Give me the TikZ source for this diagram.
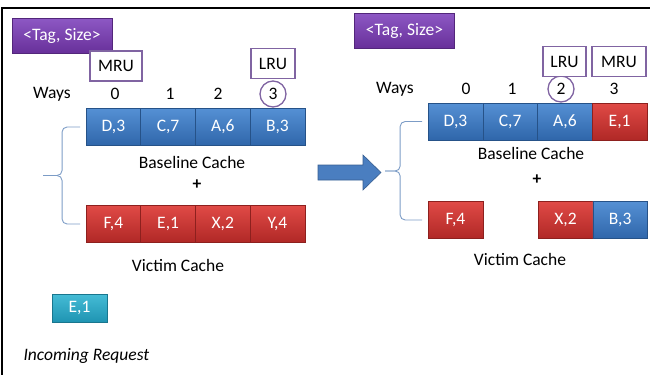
\documentclass[tikz,border=0pt]{standalone}
\usepackage{fontspec}
\setmainfont{Carlito}
\usetikzlibrary{positioning}

\definecolor{blueTop}{HTML}{5590D4}
\definecolor{blueBot}{HTML}{2F66AA}
\definecolor{redTop}{HTML}{E04A46}
\definecolor{redBot}{HTML}{B02826}
\definecolor{cyanTop}{HTML}{45BCD6}
\definecolor{cyanBot}{HTML}{1F94B2}
\definecolor{tagTop}{HTML}{8D58C4}
\definecolor{tagBot}{HTML}{68309A}
\definecolor{markPurple}{HTML}{8064A2}
\definecolor{braceBlue}{HTML}{7C9CC6}
\definecolor{arrowBlue}{HTML}{4A7EC0}

\tikzset{
    cell/.style={minimum width=54.7pt, minimum height=37pt, inner sep=0pt,
        outer sep=0pt, text=white, line width=0.6pt},
    bluecell/.style={cell, top color=blueTop, bottom color=blueBot, draw=blueBot!80!black},
    redcell/.style={cell, top color=redTop, bottom color=redBot, draw=redBot!80!black},
    cyancell/.style={cell, minimum height=28pt, top color=cyanTop, bottom color=cyanBot, draw=cyanBot!80!black},
    tagbox/.style={minimum width=100pt, minimum height=35pt, inner sep=0pt,
        top color=tagTop, bottom color=tagBot, draw=tagBot!80!black, text=white},
    markbox/.style={draw=markPurple, line width=1.3pt, fill=white, minimum height=30pt, inner sep=0pt},
    waycircle/.style={circle, draw=markPurple, line width=1.3pt, minimum size=26pt, inner sep=0pt},
    curly/.style={draw=braceBlue, line width=0.9pt, rounded corners=5pt}
}

\begin{document}
\begin{tikzpicture}[x=1pt, y=-1pt, font=\fontsize{17.5}{21}\selectfont]
    \useasboundingbox (0,0) rectangle (650,375);

    % Frame
    \draw[line width=2pt] (650,7.5) -- (1.5,7.5) -- (1.5,375);

    % ---------------- Before ----------------
    \node[tagbox] (ltag) at (62,35.5) {<Tag, Size>};

    % Baseline cache
    \node[bluecell] (lb0) at (113.4,127) {D,3};
    \node[bluecell, right=0pt of lb0] (lb1) {C,7};
    \node[bluecell, right=0pt of lb1] (lb2) {A,6};
    \node[bluecell, right=0pt of lb2] (lb3) {B,3};
    \node (lbase) at (192,162) {Baseline Cache};
    \node (lplus) at (197,185) {\textbf{+}};

    % Ways
    \node (lways) at (52,94) {Ways};
    \node (lw0) at (115,94) {0};
    \node (lw1) at (170,94) {1};
    \node (lw2) at (218,94) {2};
    \node[waycircle] (lw3) at (273,94) {3};
    \node[markbox, minimum width=52pt] (lmru) at (116,66) {MRU};
    \node[markbox, minimum width=44pt] (llru) at (273,63.5) {LRU};

    % Victim cache
    \node[redcell] (lv0) at (113.4,224) {F,4};
    \node[redcell, right=0pt of lv0] (lv1) {E,1};
    \node[redcell, right=0pt of lv1] (lv2) {X,2};
    \node[redcell, right=0pt of lv2] (lv3) {Y,4};
    \node (lvict) at (178,265) {Victim Cache};

    % Brace
    \coordinate (ltip) at (43,175.5);
    \draw[curly] ([xshift=-6pt]lb0.west) -- ++(-18,0) |- (ltip);
    \draw[curly] ([xshift=-6pt]lv0.west) -- ++(-18,0) |- (ltip);

    % Incoming request
    \node[cyancell] (req) at (79.5,308) {E,1};
    \node[anchor=west, font=\fontsize{17.5}{21}\selectfont\itshape] (reqtext) at (20,356) {Incoming Request};

    % Block arrow
    \filldraw[fill=arrowBlue, draw=arrowBlue!75!black, line width=0.6pt]
        (318,165) -- (363,165) -- (363,155) -- (381,172.5)
        -- (363,190) -- (363,180) -- (318,180) -- cycle;

    % ---------------- After ----------------
    \node[tagbox] (rtag) at (404.5,30.5) {<Tag, Size>};

    % Baseline cache
    \node[bluecell] (rb0) at (455.5,121.5) {D,3};
    \node[bluecell, right=0pt of rb0] (rb1) {C,7};
    \node[bluecell, right=0pt of rb1] (rb2) {A,6};
    \node[redcell, right=0pt of rb2] (rb3) {E,1};
    \node (rbase) at (531,153) {Baseline Cache};
    \node (rplus) at (537,180) {\textbf{+}};

    % Ways
    \node (rways) at (395,89) {Ways};
    \node (rw0) at (466,89) {0};
    \node (rw1) at (512,89) {1};
    \node[waycircle] (rw2) at (561,89) {2};
    \node (rw3) at (614,89) {3};
    \node[markbox, minimum width=43pt] (rlru) at (564.5,61.5) {LRU};
    \node[markbox, minimum width=54pt] (rmru) at (619,61.5) {MRU};

    % Victim cache
    \node[redcell] (rv0) at (455.5,220) {F,4};
    \node[redcell] (rv2) at (565.5,220) {X,2};
    \node[bluecell, right=0pt of rv2] (rv3) {B,3};
    \node (rvict) at (520,259) {Victim Cache};

    % Brace
    \coordinate (rtip) at (385,171);
    \draw[curly] ([xshift=-6pt]rb0.west) -- ++(-22,0) |- (rtip);
    \draw[curly] ([xshift=-6pt]rv0.west) -- ++(-22,0) |- (rtip);
\end{tikzpicture}
\end{document}
